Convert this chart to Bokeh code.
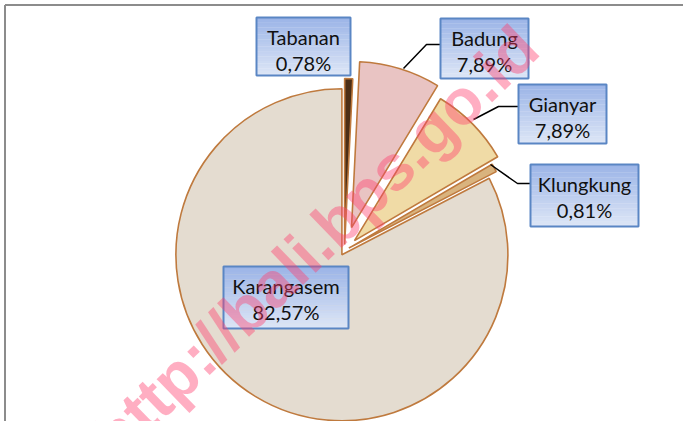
import math
from bokeh.plotting import figure
from bokeh.models import Range1d, ColumnDataSource
from bokeh.core.properties import value
from bokeh.embed import file_html
from bokeh.resources import INLINE

# ---- data ----
names = ["Tabanan", "Badung", "Gianyar", "Klungkung", "Karangasem"]
shares = [0.78, 7.89, 7.89, 0.81, 82.57]
watermark = "http://bali.bps.go.id"

# ---- styles / layout (page pixels) ----
colors = ["#4B2E16", "#E9C4C3", "#F0DBA6", "#D9B37E", "#E4DCD0"]
explode = [6, 24, 14, 5, 5]
CX, CY, R = 344, 250, 166
boxes = [(256, 17, 350, 75), (440, 18, 528, 78), (518, 84, 606, 143),
         (530, 164, 638, 226), (223, 266, 348, 328)]
leaders = [None,
           [(403, 68), (426, 44), (440, 44)],
           [(473, 119), (498, 106), (518, 106)],
           [(490, 164), (517, 183), (530, 183)],
           None]

W, H = 683, 421
p = figure(width=W, height=H, x_range=Range1d(0, W), y_range=Range1d(-H, 0),
           output_backend="svg", toolbar_location=None, min_border=0,
           x_axis_location=None, y_axis_location=None, outline_line_color=None)
p.grid.visible = False
p.background_fill_color = "white"

# frame lines (top and left)
p.line([4.5, 700], [-4.5, -4.5], line_color="#8C8C8C", line_width=2)
p.line([4.5, 4.5], [-4.5, -440], line_color="#8C8C8C", line_width=2)

# ---- pie ----
total = sum(shares)
xs, ys, sa, ea = [], [], [], []
cum = 0.0
for i, v in enumerate(shares):
    t1 = cum / total * 2 * math.pi
    cum += v
    t2 = cum / total * 2 * math.pi
    m = (t1 + t2) / 2
    e = explode[i]
    xs.append(CX + e * math.sin(m))
    ys.append(-CY + e * math.cos(m))
    sa.append(math.pi / 2 - t2)
    ea.append(math.pi / 2 - t1)
src = ColumnDataSource(dict(x=xs, y=ys, start=sa, end=ea, color=colors, name=names))
p.wedge(x="x", y="y", radius=R, start_angle="start", end_angle="end", direction="anticlock",
        fill_color="color", line_color="#BF7A3E", line_width=1.6, source=src)

# ---- leader lines ----
for ld in leaders:
    if ld:
        p.line([a for a, b in ld], [-b for a, b in ld], line_color="black", line_width=1.5)

# ---- label boxes with gradient ----
top_c = (0x9C, 0xB5, 0xE7)
bot_c = (0xDC, 0xE5, 0xF6)
N = 24
for (l, t, r, b) in boxes:
    for k in range(N):
        f = k / (N - 1)
        c = tuple(int(round(top_c[j] + (bot_c[j] - top_c[j]) * f)) for j in range(3))
        y0 = t + (b - t) * k / N
        y1 = t + (b - t) * (k + 1) / N
        p.quad(left=l, right=r, top=-y0, bottom=-y1 - 0.3,
               fill_color="#%02x%02x%02x" % c, line_color=None)
    p.quad(left=l, right=r, top=-t, bottom=-b, fill_color=None,
           line_color="#5A86C4", line_width=2)

# ---- label text ----
pct = [("%.2f" % v).replace(".", ",") + "%" for v in shares]
for i, (l, t, r, b) in enumerate(boxes):
    cx = (l + r) / 2
    p.text(x=[cx], y=[-(t + 19)], text=[names[i]], text_align="center",
           text_baseline="alphabetic", text_font=value("Lato"), text_font_size="20px",
           text_color="#111111")
    p.text(x=[cx], y=[-(t + 45)], text=[pct[i]], text_align="center",
           text_baseline="alphabetic", text_font=value("Lato"), text_font_size="20px",
           text_color="#111111")

# ---- watermark ----
p.text(x=[527], y=[-37], text=[watermark], angle=math.radians(44),
       text_align="right", text_baseline="middle", text_font=value("Liberation Sans"),
       text_font_style="bold", text_font_size="64px", text_color="#FF3D6E", text_alpha=0.42)

open("out.html", "w").write(file_html(p, INLINE))
